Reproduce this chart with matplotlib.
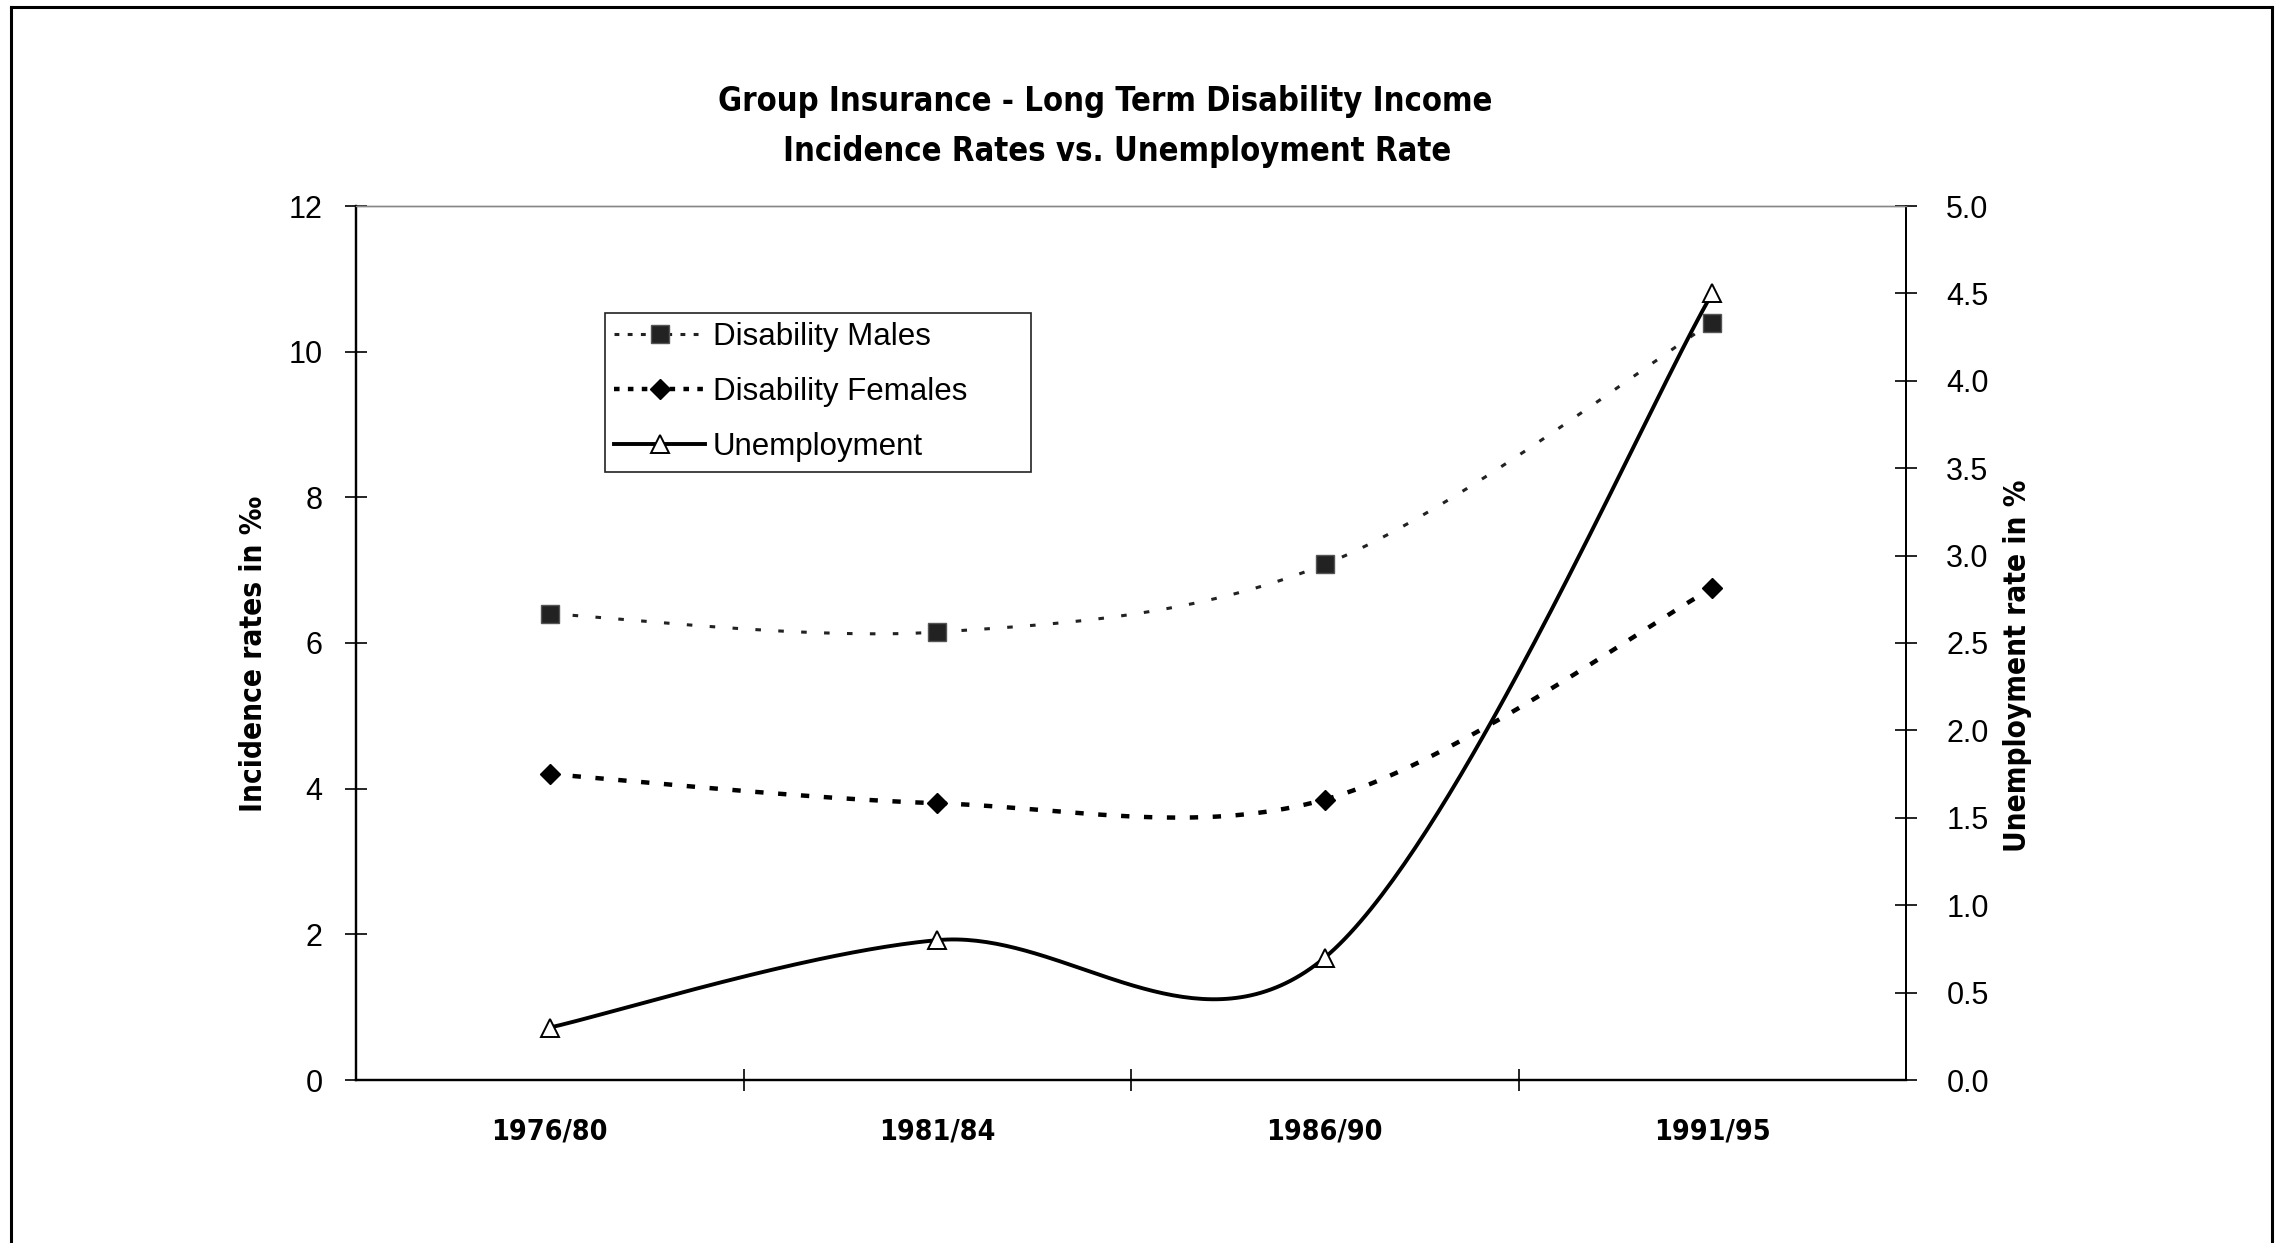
import os
import numpy as np
import matplotlib
matplotlib.use("Agg")
import matplotlib.pyplot as plt
from matplotlib import font_manager
from matplotlib.font_manager import FontProperties
from matplotlib.lines import Line2D

# ---- data -------------------------------------------------------------
periods = ["1976/80", "1981/84", "1986/90", "1991/95"]
males = [6.4, 6.15, 7.08, 10.4]          # incidence per mille
females = [4.2, 3.8, 3.85, 6.75]         # incidence per mille
unemployment = [0.3, 0.8, 0.7, 4.5]      # percent
left_ticks = [0, 2, 4, 6, 8, 10, 12]
right_ticks = [0.0, 0.5, 1.0, 1.5, 2.0, 2.5, 3.0, 3.5, 4.0, 4.5, 5.0]

# ---- fonts ------------------------------------------------------------
plt.rcParams["lines.scale_dashes"] = False
REGULAR = "Liberation Sans"


def narrow_bold_file():
    """Pick a condensed bold face if one is installed."""
    files = [f.fname for f in font_manager.fontManager.ttflist]
    files += font_manager.findSystemFonts()
    prefs = ["LiberationSansNarrow-Bold.", "DejaVuSansCondensed-Bold.",
             "RobotoCondensed-Bold.", "OpenSansCondensed-Bold.",
             "OpenSans_Condensed-Bold.", "NotoSans-CondensedBold.",
             "LatoCondensed", "Condensed-Bold", "CondensedBold", "Narrow-Bold"]
    for p in prefs:
        for f in files:
            if p.lower() in os.path.basename(f).lower():
                return f
    return None


nb = narrow_bold_file()
if nb:
    NB = FontProperties(fname=nb)
else:
    NB = FontProperties(family="Liberation Sans", weight="bold")


def nbp(size):
    p = NB.copy()
    p.set_size(size)
    return p


def smooth(xs, ys, n=80):
    """Smoothed line: cubic Bezier segments with Catmull-Rom control points."""
    pts = np.column_stack([xs, ys]).astype(float)
    ext = np.vstack([pts[0], pts, pts[-1]])
    t = np.linspace(0, 1, n)[1:, None]
    out = [pts[:1]]
    for i in range(len(pts) - 1):
        p0, p3 = ext[i + 1], ext[i + 2]
        c1 = p0 + (ext[i + 2] - ext[i]) / 6.0
        c2 = p3 - (ext[i + 3] - ext[i + 1]) / 6.0
        seg = ((1 - t) ** 3) * p0 + 3 * ((1 - t) ** 2) * t * c1 \
            + 3 * (1 - t) * (t ** 2) * c2 + (t ** 3) * p3
        out.append(seg)
    c = np.vstack(out)
    return c[:, 0], c[:, 1]


W, H = 2280, 1243
fig = plt.figure(figsize=(W / 100, H / 100), dpi=100)
ax = fig.add_axes([356 / W, 1 - 1080 / H, 1550 / W, 874 / H])
ax2 = ax.twinx()

x = np.arange(len(periods))

# males: fine dotted line with dark square markers
mx, my = smooth(x, males)
ax.plot(mx, my, color="#222222", lw=2.2, dashes=(4, 12.5), zorder=3)
ax.plot(x, males, ls="none", marker="s", ms=13.5, mfc="#222222",
        mec="#555555", mew=1.0, zorder=4)

# females: heavier dotted line with black diamonds
fx, fy = smooth(x, females)
ax.plot(fx, fy, color="black", lw=3.2, dashes=(6, 10.5), zorder=3)
ax.plot(x, females, ls="none", marker="D", ms=10.5, mfc="black",
        mec="black", zorder=4)

# unemployment on the secondary axis: solid line, open triangles
ux, uy = smooth(x, unemployment)
ax2.plot(ux, uy, color="black", lw=2.8, zorder=3)
ax2.plot(x, unemployment, ls="none", marker="^", ms=13, mfc="white",
         mec="black", mew=1.4, zorder=4)

# ---- axes -------------------------------------------------------------
ax.set_xlim(-0.5, len(periods) - 0.5)
ax.set_ylim(0, 12)
ax2.set_ylim(0, 5)

ax.set_xticks(x)
ax.set_xticklabels(periods, fontproperties=nbp(20.5))
ax.set_xticks(np.arange(0.5, len(periods) - 1, 1.0), minor=True)
ax.tick_params(axis="x", which="major", length=0, pad=27)
ax.tick_params(axis="x", which="minor", direction="inout", length=16, width=1.2)

ax.set_yticks(left_ticks)
ax.set_yticklabels([str(v) for v in left_ticks], fontfamily=REGULAR, fontsize=22)
ax.tick_params(axis="y", direction="inout", length=16, width=1.2, pad=16)

ax2.set_yticks(right_ticks)
ax2.set_yticklabels([f"{v:.1f}" for v in right_ticks], fontfamily=REGULAR, fontsize=22)
ax2.tick_params(axis="y", direction="inout", length=16, width=1.2, pad=21)

for a in (ax, ax2):
    a.spines["top"].set_color("#888888")
    a.spines["top"].set_linewidth(1.0)
    a.spines["left"].set_linewidth(1.6)
    a.spines["bottom"].set_linewidth(1.6)
    a.spines["right"].set_linewidth(1.4)
    a.patch.set_visible(False)

# ---- titles and axis labels -------------------------------------------
fig.text(1105 / W, 1 - 101 / H, "Group Insurance - Long Term Disability Income",
         ha="center", va="center", fontproperties=nbp(23.5))
fig.text(1117 / W, 1 - 152 / H, "Incidence Rates vs. Unemployment Rate",
         ha="center", va="center", fontproperties=nbp(23.5))
fig.text(253 / W, 1 - 654 / H, "Incidence rates in \u2030", rotation=90,
         ha="center", va="center", fontproperties=nbp(21.3))
fig.text(2017 / W, 1 - 666 / H, "Unemployment rate in %", rotation=90,
         ha="center", va="center", fontproperties=nbp(21.3))

# ---- legend -----------------------------------------------------------
handles = [
    Line2D([], [], color="#222222", lw=2.2, dashes=(3.5, 6), marker="s", ms=13.5,
           mfc="#222222", mec="#555555"),
    Line2D([], [], color="black", lw=3.2, dashes=(4, 6), marker="D", ms=10.5,
           mfc="black", mec="black"),
    Line2D([], [], color="black", lw=2.8, marker="^", ms=13, mfc="white",
           mec="black", mew=1.4),
]
leg = ax.legend(handles, ["Disability Males", "Disability Females", "Unemployment"],
                loc="upper left", mode="expand",
                bbox_to_anchor=(605 / W, 1 - 473 / H, 426 / W, 160 / H),
                bbox_transform=fig.transFigure, borderaxespad=0,
                prop={"family": REGULAR, "size": 22.5}, handlelength=2.9,
                handletextpad=0.25, labelspacing=0.8, borderpad=0.3,
                fancybox=False, framealpha=1, edgecolor="#222222", numpoints=1)
leg.get_frame().set_linewidth(1.2)
leg.set_zorder(10)

# ---- outer frame around the whole chart -------------------------------
frame_kw = dict(transform=fig.transFigure, color="black", lw=2.2)
fig.add_artist(Line2D([11 / W, 11 / W], [0, 1 - 7 / H], **frame_kw))
fig.add_artist(Line2D([11 / W, 2272 / W], [1 - 7 / H, 1 - 7 / H], **frame_kw))
fig.add_artist(Line2D([2272 / W, 2272 / W], [0, 1 - 7 / H], **frame_kw))

fig.savefig("out.png", dpi=100, facecolor="white")
